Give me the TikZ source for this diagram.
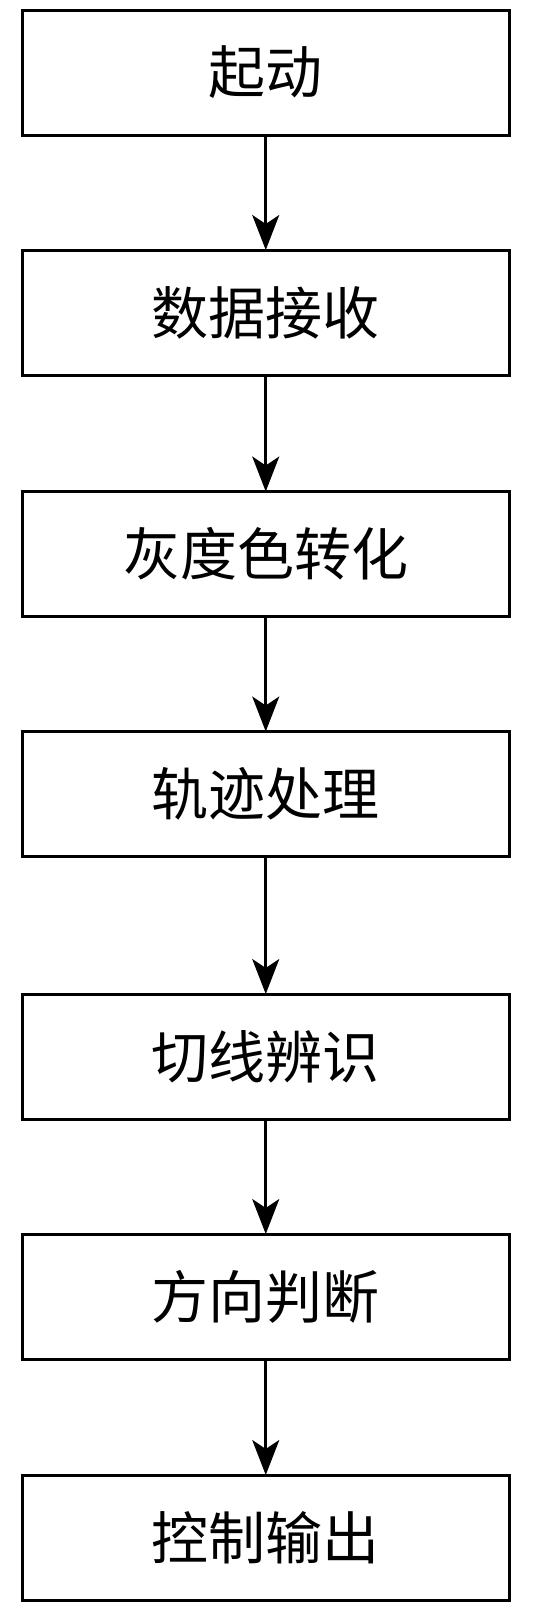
\documentclass[tikz,border=0pt]{standalone}
\usepackage{fontspec}
\newfontfamily\cjk{Noto Sans CJK SC}
\usetikzlibrary{arrows.meta}
\begin{document}
\begin{tikzpicture}[x=1pt,y=-1pt,
  stepbox/.style={draw=black,line width=3pt,minimum width=486.5pt,minimum height=125pt,inner sep=0pt,outer sep=0pt,
    font=\cjk\fontsize{57}{64}\selectfont},
  flow/.style={line width=2.7pt,-{Stealth[length=35pt,width=27pt,inset=9pt]}}]
\useasboundingbox (0,0) rectangle (541,1612);
\node[stepbox] (b1) at (265.75,72.5) {起动};
\node[stepbox] (b2) at (265.75,312.5) {数据接收};
\node[stepbox] (b3) at (265.75,554) {灰度色转化};
\node[stepbox] (b4) at (265.75,794) {轨迹处理};
\node[stepbox] (b5) at (265.75,1056.5) {切线辨识};
\node[stepbox] (b6) at (265.75,1296.5) {方向判断};
\node[stepbox] (b7) at (265.75,1537.5) {控制输出};
\foreach \a/\b in {b1/b2,b2/b3,b3/b4,b4/b5,b5/b6,b6/b7}
  \draw[flow] (\a.south) -- (\b.north);
\end{tikzpicture}
\end{document}
